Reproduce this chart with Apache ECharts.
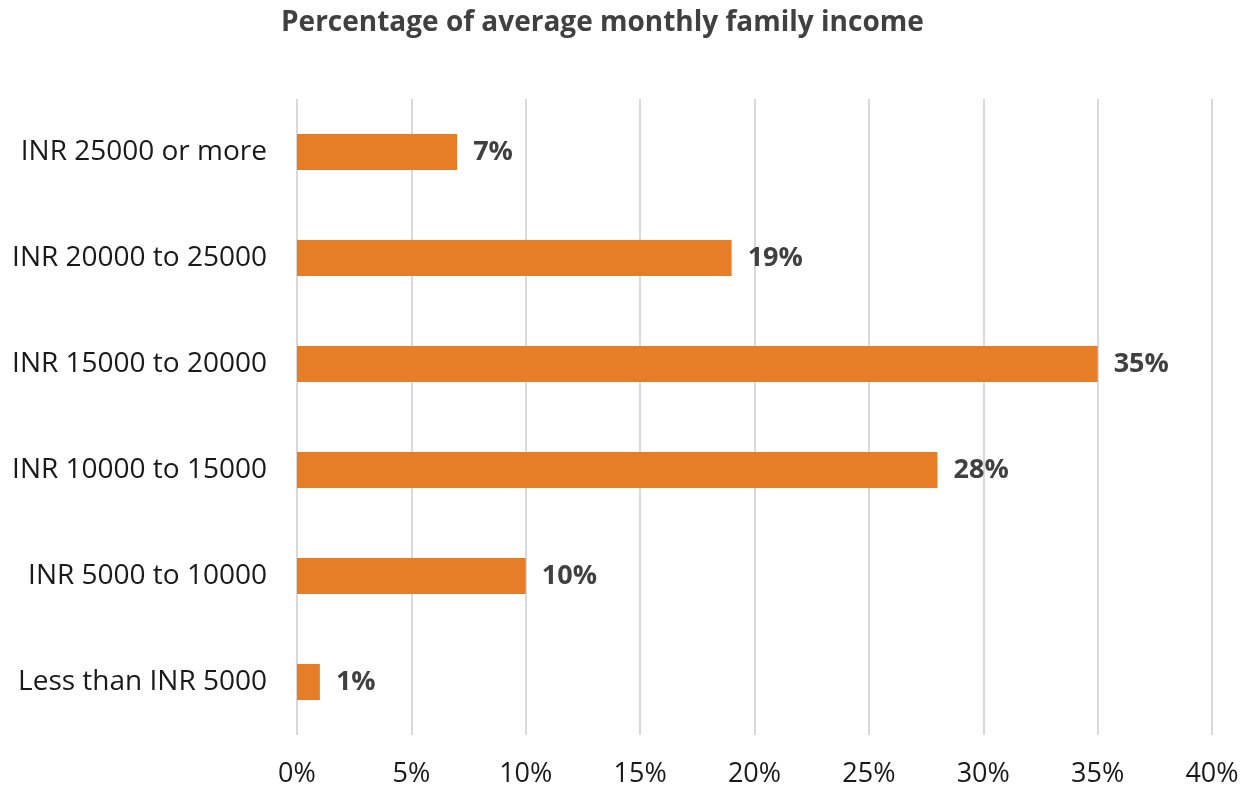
<!DOCTYPE html>
<html>
<head>
<meta charset="utf-8">
<script src="https://cdn.jsdelivr.net/npm/echarts@6/dist/echarts.min.js"></script>
<style>
  html, body { margin: 0; padding: 0; background: #fff; }
  #container { width: 1243px; height: 789px; }
</style>
</head>
<body>
<div id="container"></div>
<script>
var categories = ['Less than INR 5000', 'INR 5000 to 10000', 'INR 10000 to 15000',
    'INR 15000 to 20000', 'INR 20000 to 25000', 'INR 25000 or more'];
var shares = [1, 10, 28, 35, 19, 7];
var titleText = 'Percentage of average monthly family income';

var dom = document.getElementById('container');
var myChart = echarts.init(dom, null, { renderer: 'canvas' });

myChart.setOption({
    animation: false,
    title: {
        text: titleText,
        left: 276,
        top: 4,
        textStyle: {
            fontFamily: 'Open Sans',
            fontWeight: 'bold',
            fontSize: 28,
            color: '#404040'
        }
    },
    grid: { left: 297, right: 31, top: 99, bottom: 54 },
    xAxis: {
        type: 'value',
        min: 0,
        max: 40,
        interval: 5,
        axisLine: { show: false },
        axisTick: { show: false },
        axisLabel: {
            formatter: '{value}%',
            fontFamily: 'Open Sans',
            fontSize: 27,
            color: '#1a1a1a',
            margin: 26
        },
        splitLine: { lineStyle: { color: '#d9d9d9', width: 2 } }
    },
    yAxis: {
        type: 'category',
        data: categories,
        axisLine: { show: false },
        axisTick: { show: false },
        axisLabel: {
            fontFamily: 'Open Sans',
            fontSize: 28,
            color: '#1a1a1a',
            margin: 30
        }
    },
    series: [{
        type: 'bar',
        data: shares,
        barWidth: 36,
        itemStyle: { color: '#E67E27' },
        label: {
            show: true,
            position: 'right',
            distance: 16,
            formatter: '{c}%',
            fontFamily: 'Open Sans',
            fontWeight: 'bold',
            fontSize: 27,
            color: '#404040'
        }
    }]
});

window.addEventListener('resize', function () {
    myChart.resize();
});
</script>
</body>
</html>
